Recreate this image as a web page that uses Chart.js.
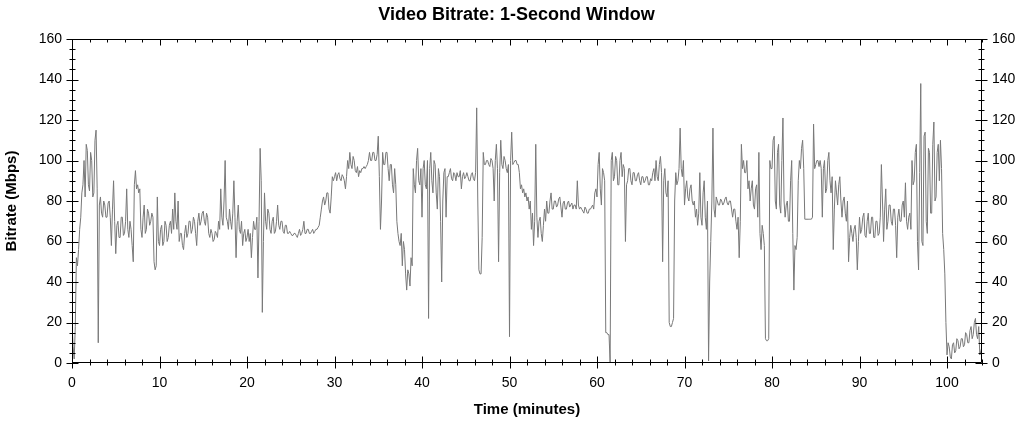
<!DOCTYPE html>
<html><head><meta charset="utf-8">
<script src="https://cdn.jsdelivr.net/npm/chart.js@4.4.1/dist/chart.umd.min.js"></script>
<style>html,body{margin:0;padding:0;background:#fff;} #wrap{width:1033px;height:422px;}</style>
</head><body><div id="wrap"><canvas id="c" width="1033" height="422"></canvas></div>
<script>
// Video bitrate (Mbps), one sample every 7.5 seconds (0.125 min).
const SAMPLE_STEP_MIN = 0.125;
const bitrate00to10 = [20,8,2,18,52,48,56,66,72,84, 88,100,82,108,105,88,85,104,100,82, 84,110,115,86,10,78,82,74,72,80, 78,72,72,79,80,72,58,76,90,70, 54,68,70,62,62,72,72,63,64,70, 86,66,62,70,66,58,50,88,95,86, 88,84,86,66,62,72,78,64,66,76, 74,68,70,74,72,50,46,48,82,60];
const bitrate10to20 = [58,66,68,58,60,70,68,60,62,68, 70,64,76,66,84,70,66,80,60,64, 64,58,56,64,68,62,64,70,70,64, 66,72,70,64,58,70,74,68,70,74, 75,70,68,74,72,64,62,66,64,60, 61,65,64,62,70,66,86,72,68,80, 100,72,70,66,76,70,66,74,90,72, 52,70,78,66,64,70,58,64,66,60];
const bitrate20to30 = [62,66,60,64,52,62,70,66,66,72, 42,70,106,90,25,60,84,70,66,76, 74,66,64,70,72,64,65,70,78,68, 66,70,70,65,64,68,68,64,64,65, 64,63,63,64,64,63,62,64,66,63, 64,66,70,64,64,66,66,64,64,65, 66,64,65,66,66,67,68,72,76,80, 82,78,80,84,84,76,74,82,92,90];
const bitrate30to40 = [92,94,90,93,94,91,90,93,92,90, 86,92,100,96,104,98,96,102,100,95, 94,97,92,95,94,96,96,97,96,97, 98,100,104,100,100,104,104,100,100,103, 112,92,66,80,104,98,98,104,104,96, 90,98,98,88,84,96,88,70,64,60, 58,64,48,60,56,44,36,46,44,38, 52,48,96,88,84,100,106,90,88,96];
const bitrate40to50 = [72,96,100,88,86,100,22,96,104,90, 84,100,98,84,76,96,92,70,40,80, 94,96,72,92,92,94,96,91,90,94, 93,90,94,92,92,95,86,92,94,91, 92,94,92,90,90,93,94,91,90,94, 126,80,46,44,44,62,104,98,98,100, 100,98,97,101,100,96,80,100,108,96, 50,94,110,98,96,102,100,96,94,98];
const bitrate50to60 = [13,100,114,98,99,100,100,98,98,94, 86,88,84,86,82,84,80,82,76,80, 66,74,58,70,108,72,62,70,72,64, 60,68,76,70,80,74,74,80,84,76, 76,80,80,77,78,81,82,77,72,79, 80,76,76,79,80,77,78,79,76,78, 78,76,90,78,76,77,76,75,74,77, 76,74,74,76,76,77,78,76,84,86];
const bitrate60to70 = [82,98,104,86,78,96,94,90,15,15, 14,14,0,100,104,90,92,102,100,88, 88,100,104,92,98,96,60,88,90,96, 96,90,88,94,94,90,90,93,94,90, 88,92,92,89,90,92,92,88,88,91, 90,94,96,90,100,92,90,98,102,94, 50,90,96,84,82,90,20,18,18,20, 22,80,94,88,90,96,116,96,92,100];
const bitrate70to80 = [78,86,90,82,80,86,88,80,78,80, 72,76,68,74,94,72,68,84,90,72, 66,80,1,40,60,80,116,76,72,82, 80,78,78,81,80,78,79,81,82,79, 78,80,80,76,72,76,76,70,66,72, 52,70,108,96,100,94,94,100,86,90, 80,86,90,78,76,86,88,72,104,64, 56,68,64,58,12,11,11,12,100,96];
const bitrate80to90 = [96,110,112,80,76,104,108,78,74,100, 121,80,72,78,80,70,70,90,100,64, 36,58,56,62,90,100,96,106,110,96, 71,71,71,71,71,71,71,72,118,96, 98,100,100,97,100,96,72,96,100,84, 86,100,104,90,84,92,56,76,90,84, 78,88,92,80,72,80,82,74,70,80, 50,62,68,64,60,66,68,62,46,60];
const bitrate90to100 = [72,64,66,72,74,63,62,70,74,64, 64,72,72,62,62,70,70,63,64,72, 98,80,60,76,86,66,70,78,78,70, 68,76,76,68,52,72,76,70,70,78, 80,72,89,70,66,72,74,66,100,88, 90,104,108,60,46,94,138,60,58,112, 114,70,64,106,104,74,74,108,119,80, 82,104,108,90,110,96,64,56,44,20];
const bitrate100to104 = [4,10,8,3,2,9,10,5,6,12, 11,7,8,12,12,8,9,15,14,10, 10,16,18,12,14,20,22,14,12,18, 4,6,8];

const xMajorTicks = [0,10,20,30,40,50,60,70,80,90,100];
const yMajorTicks = [0,20,40,60,80,100,120,140,160];
const X_MIN = 0, X_MAX = 104, Y_MIN = 0, Y_MAX = 160;
const X_MINOR_STEP = 2, Y_MINOR_STEP = 5;

const allValues = [].concat(bitrate00to10, bitrate10to20, bitrate20to30, bitrate30to40,
  bitrate40to50, bitrate50to60, bitrate60to70, bitrate70to80, bitrate80to90,
  bitrate90to100, bitrate100to104);
const points = allValues.map((v, i) => ({x: i * SAMPLE_STEP_MIN, y: v}));

const FONT = "'Liberation Sans', Arial, sans-serif";

const frameTicks = {
  id: 'frameTicks',
  afterDraw(chart) {
    const {ctx, chartArea: a} = chart;
    const xs = chart.scales.x, ys = chart.scales.y;
    const L = Math.round(a.left) + 0.5, R = Math.round(a.right) - 0.5;
    const T = Math.round(a.top) + 0.5, B = Math.round(a.bottom) - 0.5;
    ctx.save();
    ctx.strokeStyle = '#000';
    ctx.lineWidth = 1;
    ctx.beginPath();
    ctx.rect(L, T, R - L, B - T);
    for (let v = X_MIN; v <= X_MAX + 1e-9; v += X_MINOR_STEP) {
      const major = xMajorTicks.includes(v);
      const px = Math.round(xs.getPixelForValue(v)) + 0.5;
      const len = major ? 6 : 3;
      ctx.moveTo(px, B - len); ctx.lineTo(px, B + len);
      ctx.moveTo(px, T); ctx.lineTo(px, T + len);
    }
    for (let v = Y_MIN; v <= Y_MAX + 1e-9; v += Y_MINOR_STEP) {
      const major = yMajorTicks.includes(v);
      const py = Math.round(ys.getPixelForValue(v)) + 0.5;
      const len = major ? 6 : 3;
      ctx.moveTo(L - len, py); ctx.lineTo(L + len, py);
      ctx.moveTo(R - len, py); ctx.lineTo(R + len, py);
    }
    ctx.stroke();
    ctx.restore();
  }
};

new Chart(document.getElementById('c'), {
  type: 'line',
  data: {
    datasets: [{
      data: points,
      borderColor: 'rgb(120,120,120)',
      borderWidth: 1,
      pointRadius: 0,
      tension: 0,
      fill: false
    }]
  },
  options: {
    responsive: false,
    animation: false,
    devicePixelRatio: 1,
    layout: {padding: 0},
    plugins: {
      legend: {display: false},
      tooltip: {enabled: false},
      title: {
        display: true,
        text: 'Video Bitrate: 1-Second Window',
        color: '#000',
        font: {family: FONT, size: 18, weight: 'bold', lineHeight: 1.2},
        padding: {top: 4, bottom: 13.4}
      }
    },
    scales: {
      x: {
        type: 'linear', position: 'bottom', min: X_MIN, max: X_MAX,
        afterFit(s) { s.height = 59; },
        afterBuildTicks(s) { s.ticks = xMajorTicks.map(v => ({value: v})); },
        grid: {display: false, drawTicks: false},
        border: {display: false},
        ticks: {color: '#000', padding: 12, maxRotation: 0, autoSkip: false,
          font: {family: FONT, size: 14}},
        title: {display: true, text: 'Time (minutes)', color: '#000',
          font: {family: FONT, size: 15, weight: 'bold', lineHeight: 1.2},
          padding: {top: 0, bottom: 3}}
      },
      y: {
        type: 'linear', position: 'left', min: Y_MIN, max: Y_MAX,
        afterFit(s) { s.width = 72; },
        afterBuildTicks(s) { s.ticks = yMajorTicks.map(v => ({value: v})); },
        grid: {display: false, drawTicks: false},
        border: {display: false},
        ticks: {color: '#000', padding: 10, autoSkip: false,
          font: {family: FONT, size: 14}},
        title: {display: true, text: 'Bitrate (Mbps)', color: '#000',
          font: {family: FONT, size: 15, weight: 'bold', lineHeight: 1.2},
          padding: {top: 3, bottom: 0}}
      },
      y2: {
        type: 'linear', position: 'right', min: Y_MIN, max: Y_MAX,
        afterFit(s) { s.width = 51; },
        afterBuildTicks(s) { s.ticks = yMajorTicks.map(v => ({value: v})); },
        grid: {display: false, drawTicks: false},
        border: {display: false},
        ticks: {color: '#000', padding: 10, autoSkip: false,
          font: {family: FONT, size: 14}}
      }
    }
  },
  plugins: [frameTicks]
});
</script>
</body></html>
